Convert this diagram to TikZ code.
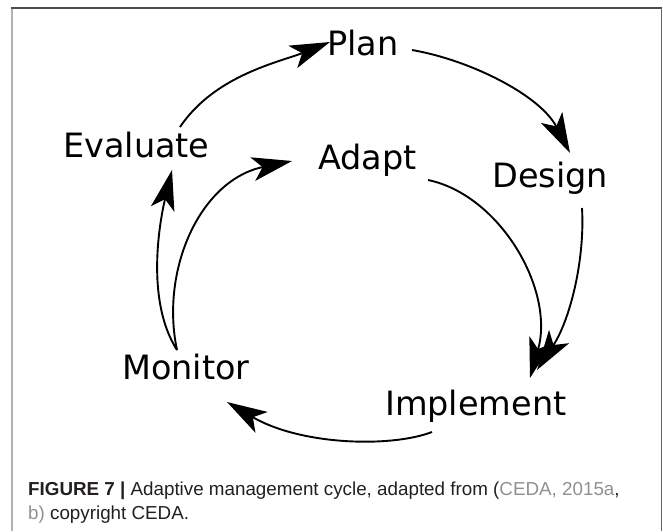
\documentclass[tikz,border=0pt]{standalone}
\usepackage{fontspec}
\setmainfont{Liberation Sans}
\newfontfamily\labelfont{DejaVu Sans}
\usetikzlibrary{arrows.meta,calc}
\definecolor{citegray}{HTML}{8E9092}
\definecolor{captioncol}{HTML}{231F20}
\begin{document}
\begin{tikzpicture}[x=1pt,y=-1pt,
  lbl/.style={font=\labelfont\fontsize{33.5}{40}\selectfont, inner sep=0pt, anchor=base west},
  captext/.style={font=\fontsize{18.8}{22}\selectfont, text=captioncol, inner sep=0pt, anchor=base west},
  conn/.style={line width=1.9pt, -{Stealth[length=40pt,width=24pt,inset=10pt]}},
]
\useasboundingbox (0,0) rectangle (663,531);
% frame
\draw[line width=2pt, color=black!30] (12,8) -- (12,531);
\draw[line width=1.5pt, color=black!70] (11,8) -- (662,8);
\draw[line width=1.5pt, color=black!60] (661.5,8) -- (661.5,531);

% labels
\node[lbl] (plan) at (327,55) {Plan};
\node[lbl] (evaluate) at (63,157) {Evaluate};
\node[lbl] (adapt) at (318,169) {Adapt};
\node[lbl] (design) at (492,187) {Design};
\node[lbl] (monitor) at (122,379) {Monitor};
\node[lbl] (implement) at (385,415) {Implement};

% connectors
\draw[conn] ($(evaluate.base west)+(117,-30)$) .. controls +(35,-52) and +(-50,20) .. ($(plan.base west)+(3,-13)$);
\draw[conn] ($(plan.base west)+(85,-5)$) .. controls +(58,10) and +(-30,-58) .. ($(design.base west)+(78,-34)$);
\draw[conn] ($(design.base west)+(90,21)$) .. controls +(3,52) and +(33,-50) .. ($(implement.base west)+(152,-45)$);
\draw[conn] ($(adapt.base west)+(110,11)$) .. controls +(72,15) and +(25,-88) .. ($(implement.base west)+(145,-37)$);
\draw[conn] ($(implement.base west)+(47,17)$) .. controls +(-42,16) and +(73,43) .. ($(monitor.base west)+(105,23)$);
\draw[conn] ($(monitor.base west)+(55,-29)$) .. controls +(-32,-50) and +(-12,50) .. ($(evaluate.base west)+(109,13)$);
\draw[conn] ($(monitor.base west)+(55,-29)$) .. controls +(-17,-80) and +(-92,19) .. ($(adapt.base west)+(-26,-8)$);

% caption
\node[captext] (cap1) at (28,495) {\textbf{FIGURE 7 |} Adaptive management cycle, adapted from (\textcolor{citegray}{CEDA, 2015a},};
\node[captext] (cap2) at (28,519) {\textcolor{citegray}{b)} copyright CEDA.};
\end{tikzpicture}
\end{document}
